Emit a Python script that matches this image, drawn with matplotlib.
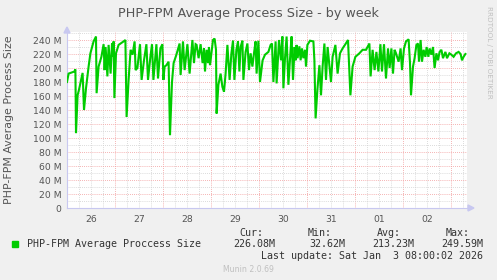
import numpy as np
import matplotlib
matplotlib.use('Agg')
import matplotlib.pyplot as plt
from matplotlib.patches import Rectangle

# hours since Dec 26 00:00, value in MB
hours = [0, 0.8, 3.7, 4.2, 4.5, 5.3, 6, 7.8, 8.5, 9.5, 10.8, 11.7, 13.3, 14.5, 14.8,
         15.8, 17.2, 18.3, 18.8, 19.3, 20.2, 20.8, 21.8, 22.5, 23, 23.3, 23.7, 24.5,
         25.8, 28.3, 29.2, 29.8, 30.8, 31.8, 32.8, 33.8, 34.3, 35.2, 36.5, 37.3, 38.5,
         39.7, 40.5, 41.7, 42.5, 43.2, 44.7, 45.5, 46.7, 47.7, 48.2, 48.8, 49.7, 50.8,
         51.5, 52.5, 53.3, 54.7, 56.3, 56.8, 58, 58.8, 60.2, 61.3, 62.7, 63.5, 64.3,
         64.8, 65.8, 66.8, 67.8, 68.5, 69, 69.8, 70.5, 71, 71.5, 72.2, 73, 73.8, 74.5,
         74.8, 75.7, 76.8, 77.7, 78.5, 79.3, 80.2, 81.3, 82.2, 83, 83.7, 84.7, 85.5,
         86.2, 86.8, 87.7, 88.2, 89.3, 90.2, 91, 91.8, 92.7, 93.5, 94.3, 94.8, 95.7,
         96.5, 97.8, 99, 100.7, 101.8, 102.5, 103.2, 104.3, 104.8, 106, 107, 107.7,
         108.2, 109, 109.8, 110.7, 111.8, 112.3, 113, 113.8, 114.3, 114.8, 115.3, 116.2,
         116.8, 117.5, 118.2, 119, 119.5, 120.2, 121.5, 123.2, 123.7, 124.3, 125.2,
         126.2, 127, 127.8, 128.7, 129.5, 130.3, 132, 132.8, 134.2, 135.3, 136.5, 137.8,
         139.2, 140.5, 141.2, 141.7, 142.8, 144.2, 146.2, 147.8, 149.5, 151.2, 151.8,
         152.8, 153.8, 154.7, 155.7, 156.7, 157.5, 158.5, 159.5, 160.5, 161.3, 162.2,
         163, 163.8, 164.5, 165.8, 166.8, 167.5, 168.5, 169.5, 170.8, 171.5, 172, 173,
         173.8, 174.7, 175.5, 176, 176.8, 177.5, 178.3, 179.2, 179.8, 180.7, 181.3,
         182.2, 183, 183.8, 184.7, 185.5, 186.3, 187.2, 188, 189.2, 190, 191.2, 192.2,
         193.3, 194.5, 195.8, 196.8, 197.5, 198.3, 199.2]
size_mb = [180, 192, 195, 198, 107, 161, 169, 193, 140, 171, 202, 221, 238, 245, 164,
           202, 216, 234, 197, 230, 188, 233, 192, 235, 216, 238, 157, 221,
           233, 238, 240, 130, 183, 226, 219, 238, 197, 200, 234, 183, 211,
           234, 183, 216, 234, 183, 234, 185, 228, 234, 183, 202, 204, 209,
           104, 180, 207, 219, 235, 190, 238, 197, 234, 192, 240, 207, 234,
           233, 214, 234, 207, 228, 195, 226, 207, 230, 204, 221, 240, 242, 226,
           135, 176, 192, 173, 166, 192, 233, 183, 221, 239, 183, 226, 238,
           195, 230, 239, 183, 223, 235, 197, 221, 202, 221, 238, 192, 239,
           180, 211, 219, 223, 233, 235, 180, 238, 178, 240, 211, 245,
           171, 214, 245, 176, 226, 245, 183, 230, 211, 233, 214, 231,
           211, 228, 214, 226, 202, 233, 239, 238, 211, 128, 169,
           204, 161, 202, 235, 183, 230, 180, 216, 233, 192, 221, 228,
           234, 240, 192, 161, 202, 216, 221, 226, 226, 235, 188,
           226, 197, 223, 195, 234, 195, 234, 185, 228, 200, 228,
           192, 226, 221, 209, 228, 197, 228, 238, 241, 207, 161, 202,
           214, 233, 235, 209, 240, 209, 226, 216, 230, 216, 228,
           219, 230, 200, 221, 211, 223, 226, 214, 223, 214, 221, 219,
           216, 221, 223, 220, 211, 216, 220]

day_ticks = [12, 36, 60, 84, 108, 132, 156, 180]
day_labels = ['26', '27', '28', '29', '30', '31', '01', '02']
ytick_vals = list(range(0, 241, 20))
ytick_labels = ['0'] + ['%d M' % v for v in ytick_vals[1:]]

W, H = 497, 280
fig = plt.figure(figsize=(W / 100, H / 100), dpi=100, facecolor='#f0f0f0')


def px(x, y):
    return x / W, 1 - y / H


left, right, top, bottom = 67, 467, 31.6, 208
ax = fig.add_axes([left / W, 1 - bottom / H, (right - left) / W, (bottom - top) / H])
ax.set_facecolor('white')
ax.set_xlim(0, 200)
ax.set_ylim(0, 252)

# grid
for h in range(6, 200, 6):
    if h % 24:
        ax.axvline(h, color='#cfcfcf', lw=0.6, ls=(0, (1, 1.5)), zorder=1)
for h in range(24, 200, 24):
    ax.axvline(h, color='#f29a9a', lw=0.6, ls=(0, (1, 1.5)), zorder=1)
for v in range(10, 252, 10):
    c = '#f29a9a' if v % 20 == 0 else '#cfcfcf'
    ax.axhline(v, color=c, lw=0.6, ls=(0, (1, 1.5)), zorder=1)

ax.plot(hours, size_mb, color='#00cc00', lw=1.5, zorder=3, solid_joinstyle='miter')

for s in ['top', 'right']:
    ax.spines[s].set_visible(False)
for s in ['left', 'bottom']:
    ax.spines[s].set_color('#c8c8f0')
    ax.spines[s].set_linewidth(0.8)

ax.set_xticks(day_ticks)
ax.set_xticklabels(day_labels)
ax.set_yticks(ytick_vals)
ax.set_yticklabels(ytick_labels)
ax.tick_params(axis='both', length=0, labelsize=6.7, labelcolor='#555555', pad=4)
ax.tick_params(axis='x', pad=5)

# axis arrows
fig.patches.append(plt.Polygon([px(64, 33), px(70, 33), px(67, 27)], closed=True,
                               transform=fig.transFigure, color='#c8c8f0'))
fig.patches.append(plt.Polygon([px(468, 205), px(468, 211), px(474, 208)], closed=True,
                               transform=fig.transFigure, color='#c8c8f0'))

fig.text(*px(248, 13), 'PHP-FPM Average Process Size - by week', ha='center', va='center',
         fontsize=9.2, color='#555555')
fig.text(*px(9, 120), 'PHP-FPM Average Process Size', ha='center', va='center',
         rotation=90, fontsize=7.9, color='#555555')
fig.text(*px(489, 6), 'RRDTOOL / TOBI OETIKER', ha='center', va='top', rotation=270,
         fontsize=5.2, color='#c0c0c0')

mono = 'DejaVu Sans Mono'
fs = 7.2
tc = '#333333'
fig.patches.append(Rectangle(px(12, 247), 6 / W, 6 / H, transform=fig.transFigure,
                             color='#00cc00'))
fig.text(*px(27, 244), 'PHP-FPM Average Proccess Size', family=mono, fontsize=fs,
         color=tc, va='center')
for x0, head in [(263, 'Cur:'), (332, 'Min:'), (401, 'Avg:'), (470, 'Max:')]:
    fig.text(*px(x0, 233), head, family=mono, fontsize=fs, color=tc, va='center', ha='right')
for x1, val in [(275, '226.08M'), (345, '32.62M'), (414, '213.23M'), (483, '249.59M')]:
    fig.text(*px(x1, 244), val, family=mono, fontsize=fs, color=tc, va='center', ha='right')
fig.text(*px(483, 256), 'Last update: Sat Jan  3 08:00:02 2026', family=mono, fontsize=fs,
         color=tc, va='center', ha='right')
fig.text(*px(248, 270), 'Munin 2.0.69', fontsize=5.6, color='#c0c0c0', ha='center',
         va='center')

fig.savefig('out.png', dpi=100, facecolor=fig.get_facecolor())
